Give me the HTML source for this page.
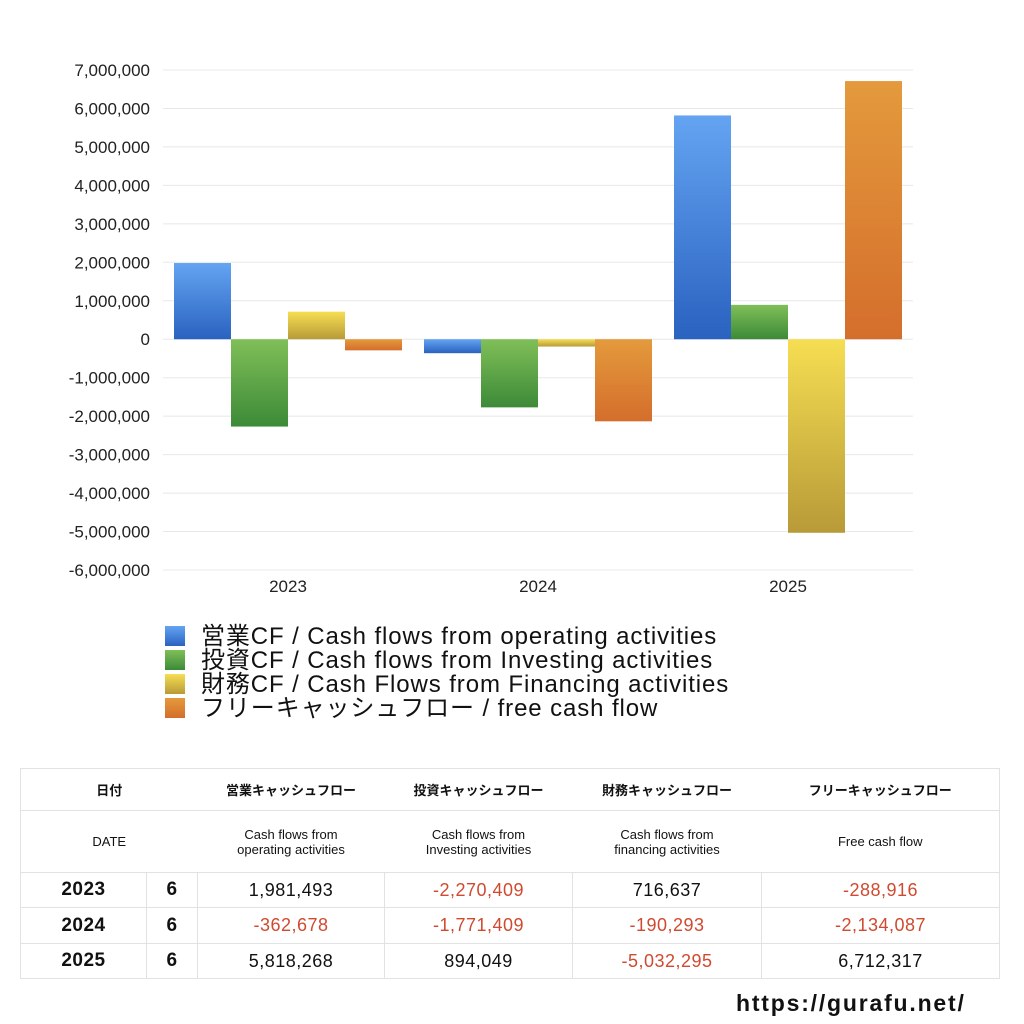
<!DOCTYPE html>
<html><head><meta charset="utf-8"><style>
body{margin:0;width:1024px;height:1024px;background:#fff;font-family:"Liberation Sans","Noto Sans CJK JP",sans-serif;position:relative;overflow:hidden}
.leg{position:absolute;left:165px;font-size:24px;letter-spacing:0.9px;color:#111;white-space:nowrap}
.leg span{display:inline-block;width:20px;height:20px;margin-right:16px;vertical-align:-2px}
table{position:absolute;left:20px;top:768px;border-collapse:collapse;width:980px}
td{border:1px solid #e2e2e2;text-align:center;padding:0}
.h td{font-size:13px;font-weight:bold;color:#111;border-left:none;border-right:none}
.h td:first-child{border-left:1px solid #e2e2e2}
.h td:last-child{border-right:1px solid #e2e2e2}
.h2 td{font-weight:normal}
.d td{font-size:18px;letter-spacing:0.5px;color:#111}
.neg{color:#d04a30!important}
.yr{font-weight:bold;font-size:19px!important}
</style></head><body>
<svg id="chart" width="1024" height="620" style="position:absolute;left:0;top:0">
<defs>
<linearGradient id="g0" x1="0" y1="0" x2="0" y2="1"><stop offset="0" stop-color="#64a4f2"/><stop offset="1" stop-color="#2a62c0"/></linearGradient>
<linearGradient id="g1" x1="0" y1="0" x2="0" y2="1"><stop offset="0" stop-color="#80bf58"/><stop offset="1" stop-color="#3c8a38"/></linearGradient>
<linearGradient id="g2" x1="0" y1="0" x2="0" y2="1"><stop offset="0" stop-color="#f6de52"/><stop offset="1" stop-color="#b89a38"/></linearGradient>
<linearGradient id="g3" x1="0" y1="0" x2="0" y2="1"><stop offset="0" stop-color="#e49a3c"/><stop offset="1" stop-color="#d46e2c"/></linearGradient>
</defs>
</svg>
<div class="leg" style="top:616px"><span style="background:linear-gradient(#64a4f2,#2a62c0)"></span>営業CF / Cash flows from operating activities</div>
<div class="leg" style="top:640px"><span style="background:linear-gradient(#80bf58,#3c8a38)"></span>投資CF / Cash flows from Investing activities</div>
<div class="leg" style="top:664px"><span style="background:linear-gradient(#f6de52,#b89a38)"></span>財務CF / Cash Flows from Financing activities</div>
<div class="leg" style="top:688px"><span style="background:linear-gradient(#e49a3c,#d46e2c)"></span>フリーキャッシュフロー / free cash flow</div>
<table>
<tr class="h" style="height:42px"><td colspan="2" style="width:175px">日付</td><td style="width:187px">営業キャッシュフロー</td><td style="width:188px">投資キャッシュフロー</td><td style="width:189px">財務キャッシュフロー</td><td>フリーキャッシュフロー</td></tr>
<tr class="h h2" style="height:62px"><td colspan="2">DATE</td><td>Cash flows from<br>operating activities</td><td>Cash flows from<br>Investing activities</td><td>Cash flows from<br>financing activities</td><td>Free cash flow</td></tr>
<tr class="d" style="height:35px"><td class="yr" style="width:125px;border-right:1px solid #e2e2e2">2023</td><td class="yr" style="width:50px">6</td><td>1,981,493</td><td class="neg">-2,270,409</td><td>716,637</td><td class="neg">-288,916</td></tr>
<tr class="d" style="height:36px"><td class="yr">2024</td><td class="yr">6</td><td class="neg">-362,678</td><td class="neg">-1,771,409</td><td class="neg">-190,293</td><td class="neg">-2,134,087</td></tr>
<tr class="d" style="height:35px"><td class="yr">2025</td><td class="yr">6</td><td>5,818,268</td><td>894,049</td><td class="neg">-5,032,295</td><td>6,712,317</td></tr>
</table>
<div style="position:absolute;left:736px;top:990px;font-size:23px;letter-spacing:1.8px;font-weight:bold;color:#111">https://gurafu.net/</div>
<script>
const categories=["2023","2024","2025"];
const operating=[1981493,-362678,5818268];
const investing=[-2270409,-1771409,894049];
const financing=[716637,-190293,-5032295];
const fcf=[-288916,-2134087,6712317];
const ticks=[7000000,6000000,5000000,4000000,3000000,2000000,1000000,0,-1000000,-2000000,-3000000,-4000000,-5000000,-6000000];
const svg=document.getElementById('chart');
const NS='http://www.w3.org/2000/svg';
const L=163,R=913,T=70,B=570,ymax=7000000,ymin=-6000000;
const y=v=>T+(ymax-v)/(ymax-ymin)*(B-T);
const gw=(R-L)/categories.length;
function mk(t,a){const e=document.createElementNS(NS,t);for(const k in a)e.setAttribute(k,a[k]);svg.appendChild(e);return e;}
ticks.forEach(t=>{
 const l=mk('line',{x1:L,x2:R,y1:y(t),y2:y(t),stroke:'#e8e8e8','stroke-width':1});
 
 
 const tx=mk('text',{x:150,y:y(t)+6,'text-anchor':'end','font-size':17,fill:'#222'});
 tx.textContent=t.toLocaleString('en-US');
 
 
});
const series=[operating,investing,financing,fcf];
const names=['operating','investing','financing','fcf'];
const bw=57,pad=(gw-4*bw)/2;
categories.forEach((c,i)=>{
 series.forEach((s,j)=>{
  const v=s[i],y0=y(0),yv=y(v);
  const r=mk('rect',{x:L+i*gw+pad+j*bw,y:Math.min(y0,yv),width:bw,height:Math.abs(yv-y0),fill:'url(#g'+j+')'});
  
  
 });
 const tx=mk('text',{x:L+i*gw+gw/2,y:592,'text-anchor':'middle','font-size':17,fill:'#222'});
 tx.textContent=c;
 
 
});
</script>
</body></html>
